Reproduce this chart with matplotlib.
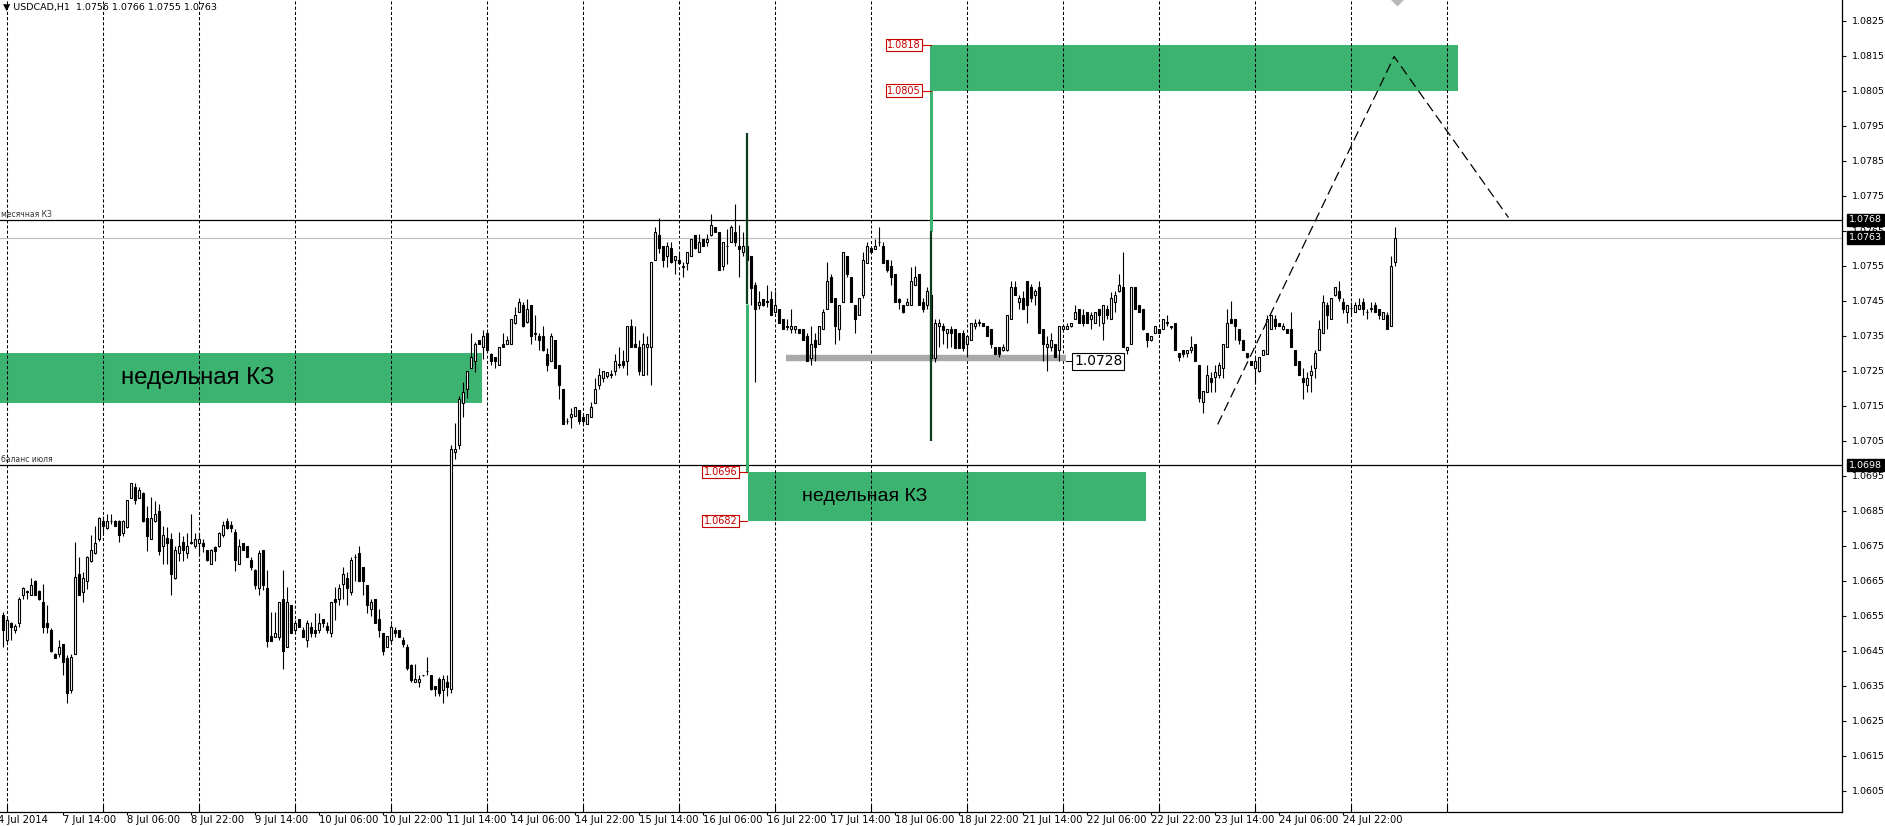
import matplotlib
matplotlib.use("Agg")
import matplotlib.pyplot as plt
from matplotlib.patches import Rectangle
import matplotlib.transforms as mtransforms
import numpy as np

# USDCAD H1 candles, bar 0 = 4 Jul 2014 23:00, last bar = 25 Jul 11:00
opens = [
    1.06551, 1.06479, 1.06530, 1.06510, 1.06529, 1.06610, 1.06617, 1.06610, 1.06650, 1.06619,
    1.06590, 1.06530, 1.06510, 1.06440, 1.06439, 1.06470, 1.06430, 1.06338, 1.06439, 1.06669,
    1.06617, 1.06648, 1.06707, 1.06728, 1.06768, 1.06821, 1.06800, 1.06820, 1.06821, 1.06821,
    1.06787, 1.06802, 1.06887, 1.06917, 1.06887, 1.06900, 1.06828, 1.06768, 1.06819, 1.06849,
    1.06749, 1.06771, 1.06768, 1.06658, 1.06728, 1.06759, 1.06728, 1.06758, 1.06749, 1.06758,
    1.06758, 1.06737, 1.06697, 1.06747, 1.06750, 1.06780, 1.06821, 1.06808, 1.06789, 1.06698,
    1.06757, 1.06749, 1.06709, 1.06679, 1.06630, 1.06738, 1.06630, 1.06491, 1.06489, 1.06489,
    1.06598, 1.06459, 1.06579, 1.06510, 1.06539, 1.06510, 1.06480, 1.06518, 1.06510, 1.06510,
    1.06539, 1.06520, 1.06499, 1.06598, 1.06598, 1.06639, 1.06658, 1.06617, 1.06716, 1.06729,
    1.06690, 1.06638, 1.06570, 1.06598, 1.06539, 1.06499, 1.06459, 1.06480, 1.06510, 1.06510,
    1.06480, 1.06459, 1.06409, 1.06359, 1.06359, 1.06379, 1.06391, 1.06380, 1.06349, 1.06368,
    1.06338, 1.06361, 1.06340, 1.07017, 1.07036, 1.07157, 1.07197, 1.07256, 1.07277, 1.07337,
    1.07316, 1.07356, 1.07296, 1.07288, 1.07267, 1.07327, 1.07327, 1.07327, 1.07387, 1.07417,
    1.07436, 1.07389, 1.07436, 1.07355, 1.07348, 1.07348, 1.07296, 1.07277, 1.07337, 1.07267,
    1.07197, 1.07105, 1.07116, 1.07119, 1.07138, 1.07116, 1.07097, 1.07117, 1.07157, 1.07209,
    1.07228, 1.07235, 1.07238, 1.07248, 1.07266, 1.07277, 1.07277, 1.07377, 1.07327, 1.07316,
    1.07237, 1.07316, 1.07316, 1.07567, 1.07638, 1.07606, 1.07578, 1.07599, 1.07567, 1.07567,
    1.07547, 1.07557, 1.07578, 1.07638, 1.07588, 1.07625, 1.07618, 1.07638, 1.07659, 1.07646,
    1.07548, 1.07605, 1.07618, 1.07646, 1.07606, 1.07588, 1.07606, 1.07578, 1.07495, 1.07436,
    1.07455, 1.07446, 1.07455, 1.07417, 1.07427, 1.07396, 1.07375, 1.07368, 1.07368, 1.07368,
    1.07368, 1.07349, 1.07287, 1.07337, 1.07327, 1.07368, 1.07427, 1.07517, 1.07457, 1.07368,
    1.07445, 1.07578, 1.07517, 1.07436, 1.07408, 1.07466, 1.07557, 1.07599, 1.07597, 1.07617,
    1.07606, 1.07567, 1.07548, 1.07526, 1.07455, 1.07436, 1.07436, 1.07436, 1.07495, 1.07526,
    1.07447, 1.07436, 1.07466, 1.07285, 1.07376, 1.07376, 1.07356, 1.07368, 1.07368, 1.07356,
    1.07356, 1.07327, 1.07337, 1.07376, 1.07386, 1.07387, 1.07376, 1.07368, 1.07318, 1.07318,
    1.07308, 1.07308, 1.07396, 1.07488, 1.07447, 1.07457, 1.07507, 1.07488, 1.07466, 1.07488,
    1.07368, 1.07318, 1.07318, 1.07327, 1.07308, 1.07368, 1.07368, 1.07376, 1.07398, 1.07427,
    1.07408, 1.07417, 1.07396, 1.07387, 1.07427, 1.07387, 1.07427, 1.07396, 1.07445, 1.07476,
    1.07488, 1.07308, 1.07327, 1.07488, 1.07436, 1.07427, 1.07356, 1.07337, 1.07356, 1.07368,
    1.07368, 1.07386, 1.07375, 1.07387, 1.07299, 1.07308, 1.07299, 1.07308, 1.07327, 1.07267,
    1.07159, 1.07190, 1.07228, 1.07232, 1.07237, 1.07256, 1.07318, 1.07396, 1.07396, 1.07368,
    1.07337, 1.07299, 1.07277, 1.07258, 1.07249, 1.07294, 1.07296, 1.07368, 1.07396, 1.07387,
    1.07368, 1.07368, 1.07368, 1.07308, 1.07277, 1.07228, 1.07209, 1.07237, 1.07258, 1.07308,
    1.07356, 1.07436, 1.07396, 1.07466, 1.07476, 1.07447, 1.07417, 1.07428, 1.07417, 1.07427,
    1.07447, 1.07416, 1.07426, 1.07436, 1.07427, 1.07396, 1.07408, 1.07376, 1.07560,
]
highs = [
    1.06560, 1.06546, 1.06532, 1.06527, 1.06603, 1.06631, 1.06622, 1.06658, 1.06652, 1.06622,
    1.06639, 1.06579, 1.06513, 1.06444, 1.06480, 1.06470, 1.06437, 1.06440, 1.06759, 1.06718,
    1.06674, 1.06719, 1.06781, 1.06806, 1.06832, 1.06835, 1.06840, 1.06841, 1.06822, 1.06822,
    1.06822, 1.06879, 1.06930, 1.06930, 1.06917, 1.06903, 1.06863, 1.06889, 1.06877, 1.06868,
    1.06806, 1.06802, 1.06787, 1.06750, 1.06790, 1.06778, 1.06787, 1.06840, 1.06787, 1.06787,
    1.06768, 1.06737, 1.06740, 1.06750, 1.06790, 1.06821, 1.06828, 1.06821, 1.06797, 1.06769,
    1.06757, 1.06749, 1.06717, 1.06683, 1.06738, 1.06738, 1.06679, 1.06560, 1.06560, 1.06589,
    1.06679, 1.06631, 1.06579, 1.06537, 1.06539, 1.06518, 1.06537, 1.06532, 1.06557, 1.06557,
    1.06539, 1.06532, 1.06589, 1.06631, 1.06641, 1.06690, 1.06674, 1.06718, 1.06726, 1.06750,
    1.06690, 1.06638, 1.06598, 1.06598, 1.06570, 1.06499, 1.06491, 1.06527, 1.06518, 1.06510,
    1.06489, 1.06470, 1.06412, 1.06412, 1.06380, 1.06380, 1.06431, 1.06380, 1.06349, 1.06375,
    1.06380, 1.06380, 1.07038, 1.07100, 1.07178, 1.07218, 1.07248, 1.07358, 1.07332, 1.07337,
    1.07365, 1.07360, 1.07299, 1.07288, 1.07317, 1.07357, 1.07349, 1.07396, 1.07431, 1.07457,
    1.07447, 1.07455, 1.07438, 1.07408, 1.07356, 1.07377, 1.07313, 1.07358, 1.07337, 1.07267,
    1.07197, 1.07114, 1.07142, 1.07145, 1.07138, 1.07122, 1.07125, 1.07159, 1.07228, 1.07256,
    1.07248, 1.07247, 1.07251, 1.07296, 1.07318, 1.07308, 1.07377, 1.07398, 1.07377, 1.07337,
    1.07356, 1.07348, 1.07559, 1.07659, 1.07687, 1.07606, 1.07616, 1.07618, 1.07578, 1.07588,
    1.07559, 1.07588, 1.07625, 1.07638, 1.07640, 1.07625, 1.07640, 1.07698, 1.07659, 1.07646,
    1.07618, 1.07654, 1.07666, 1.07727, 1.07666, 1.07646, 1.07620, 1.07578, 1.07504, 1.07476,
    1.07455, 1.07495, 1.07476, 1.07476, 1.07427, 1.07396, 1.07398, 1.07427, 1.07376, 1.07368,
    1.07368, 1.07356, 1.07376, 1.07356, 1.07376, 1.07427, 1.07559, 1.07526, 1.07457, 1.07436,
    1.07588, 1.07578, 1.07517, 1.07436, 1.07457, 1.07588, 1.07616, 1.07606, 1.07625, 1.07659,
    1.07616, 1.07567, 1.07567, 1.07526, 1.07457, 1.07436, 1.07457, 1.07545, 1.07548, 1.07526,
    1.07457, 1.07488, 1.07475, 1.07398, 1.07398, 1.07387, 1.07368, 1.07376, 1.07368, 1.07356,
    1.07365, 1.07349, 1.07387, 1.07396, 1.07396, 1.07387, 1.07376, 1.07368, 1.07318, 1.07318,
    1.07327, 1.07408, 1.07507, 1.07507, 1.07466, 1.07476, 1.07507, 1.07498, 1.07483, 1.07507,
    1.07368, 1.07349, 1.07356, 1.07327, 1.07376, 1.07376, 1.07387, 1.07387, 1.07436, 1.07427,
    1.07427, 1.07417, 1.07417, 1.07417, 1.07427, 1.07436, 1.07436, 1.07474, 1.07476, 1.07526,
    1.07588, 1.07318, 1.07488, 1.07488, 1.07436, 1.07427, 1.07356, 1.07349, 1.07376, 1.07368,
    1.07396, 1.07408, 1.07376, 1.07387, 1.07299, 1.07308, 1.07308, 1.07349, 1.07327, 1.07267,
    1.07190, 1.07267, 1.07247, 1.07267, 1.07275, 1.07327, 1.07427, 1.07450, 1.07396, 1.07368,
    1.07337, 1.07299, 1.07277, 1.07289, 1.07289, 1.07308, 1.07408, 1.07408, 1.07408, 1.07387,
    1.07387, 1.07368, 1.07417, 1.07308, 1.07277, 1.07257, 1.07247, 1.07267, 1.07308, 1.07393,
    1.07466, 1.07445, 1.07457, 1.07488, 1.07507, 1.07457, 1.07436, 1.07447, 1.07447, 1.07457,
    1.07457, 1.07427, 1.07447, 1.07447, 1.07427, 1.07417, 1.07417, 1.07578, 1.07660,
]
lows = [
    1.06459, 1.06472, 1.06480, 1.06499, 1.06518, 1.06598, 1.06598, 1.06608, 1.06608, 1.06593,
    1.06499, 1.06499, 1.06446, 1.06428, 1.06432, 1.06380, 1.06300, 1.06328, 1.06439, 1.06608,
    1.06589, 1.06626, 1.06702, 1.06726, 1.06764, 1.06781, 1.06797, 1.06811, 1.06805, 1.06759,
    1.06778, 1.06800, 1.06885, 1.06868, 1.06885, 1.06816, 1.06735, 1.06768, 1.06816, 1.06724,
    1.06697, 1.06696, 1.06608, 1.06655, 1.06707, 1.06707, 1.06714, 1.06754, 1.06743, 1.06721,
    1.06731, 1.06707, 1.06696, 1.06707, 1.06747, 1.06773, 1.06797, 1.06788, 1.06677, 1.06698,
    1.06736, 1.06717, 1.06679, 1.06627, 1.06608, 1.06622, 1.06459, 1.06478, 1.06489, 1.06480,
    1.06397, 1.06459, 1.06499, 1.06503, 1.06518, 1.06489, 1.06459, 1.06489, 1.06489, 1.06499,
    1.06518, 1.06499, 1.06489, 1.06537, 1.06579, 1.06598, 1.06579, 1.06608, 1.06650, 1.06650,
    1.06610, 1.06557, 1.06548, 1.06529, 1.06489, 1.06437, 1.06459, 1.06470, 1.06489, 1.06489,
    1.06459, 1.06395, 1.06361, 1.06359, 1.06347, 1.06377, 1.06380, 1.06338, 1.06320, 1.06320,
    1.06300, 1.06320, 1.06328, 1.06998, 1.07027, 1.07116, 1.07171, 1.07256, 1.07247, 1.07327,
    1.07284, 1.07305, 1.07266, 1.07256, 1.07267, 1.07316, 1.07327, 1.07327, 1.07384, 1.07417,
    1.07375, 1.07387, 1.07327, 1.07337, 1.07308, 1.07305, 1.07248, 1.07277, 1.07256, 1.07169,
    1.07097, 1.07097, 1.07087, 1.07119, 1.07097, 1.07097, 1.07097, 1.07117, 1.07157, 1.07197,
    1.07218, 1.07228, 1.07228, 1.07237, 1.07256, 1.07256, 1.07237, 1.07316, 1.07316, 1.07237,
    1.07237, 1.07237, 1.07209, 1.07567, 1.07587, 1.07545, 1.07545, 1.07557, 1.07526, 1.07557,
    1.07516, 1.07538, 1.07576, 1.07597, 1.07588, 1.07606, 1.07606, 1.07635, 1.07646, 1.07538,
    1.07538, 1.07554, 1.07618, 1.07606, 1.07517, 1.07578, 1.07520, 1.07436, 1.07216, 1.07427,
    1.07434, 1.07431, 1.07408, 1.07415, 1.07387, 1.07368, 1.07365, 1.07358, 1.07356, 1.07356,
    1.07337, 1.07277, 1.07267, 1.07277, 1.07327, 1.07368, 1.07427, 1.07447, 1.07327, 1.07337,
    1.07445, 1.07517, 1.07445, 1.07356, 1.07408, 1.07457, 1.07557, 1.07588, 1.07597, 1.07606,
    1.07557, 1.07531, 1.07495, 1.07447, 1.07427, 1.07415, 1.07436, 1.07436, 1.07495, 1.07436,
    1.07417, 1.07427, 1.07275, 1.07275, 1.07318, 1.07327, 1.07315, 1.07318, 1.07313, 1.07313,
    1.07305, 1.07289, 1.07337, 1.07368, 1.07376, 1.07376, 1.07349, 1.07315, 1.07296, 1.07289,
    1.07305, 1.07305, 1.07396, 1.07466, 1.07427, 1.07427, 1.07387, 1.07445, 1.07436, 1.07356,
    1.07277, 1.07249, 1.07305, 1.07289, 1.07277, 1.07368, 1.07368, 1.07374, 1.07398, 1.07387,
    1.07376, 1.07387, 1.07368, 1.07387, 1.07376, 1.07337, 1.07398, 1.07396, 1.07417, 1.07474,
    1.07318, 1.07296, 1.07327, 1.07427, 1.07417, 1.07365, 1.07318, 1.07334, 1.07356, 1.07356,
    1.07368, 1.07376, 1.07368, 1.07308, 1.07277, 1.07289, 1.07289, 1.07299, 1.07277, 1.07159,
    1.07128, 1.07190, 1.07190, 1.07190, 1.07228, 1.07228, 1.07318, 1.07387, 1.07337, 1.07327,
    1.07308, 1.07286, 1.07267, 1.07218, 1.07247, 1.07294, 1.07296, 1.07368, 1.07368, 1.07376,
    1.07365, 1.07356, 1.07318, 1.07267, 1.07237, 1.07169, 1.07190, 1.07190, 1.07228, 1.07308,
    1.07356, 1.07368, 1.07396, 1.07464, 1.07450, 1.07415, 1.07387, 1.07408, 1.07417, 1.07427,
    1.07408, 1.07396, 1.07417, 1.07417, 1.07396, 1.07396, 1.07368, 1.07376, 1.07550,
]
closes = [
    1.06510, 1.06538, 1.06518, 1.06519, 1.06598, 1.06629, 1.06619, 1.06638, 1.06610, 1.06597,
    1.06518, 1.06518, 1.06449, 1.06430, 1.06459, 1.06418, 1.06328, 1.06432, 1.06660, 1.06610,
    1.06658, 1.06716, 1.06737, 1.06758, 1.06828, 1.06805, 1.06821, 1.06821, 1.06806, 1.06781,
    1.06821, 1.06879, 1.06928, 1.06879, 1.06909, 1.06819, 1.06777, 1.06828, 1.06841, 1.06735,
    1.06781, 1.06756, 1.06669, 1.06737, 1.06750, 1.06737, 1.06750, 1.06759, 1.06768, 1.06768,
    1.06749, 1.06709, 1.06737, 1.06735, 1.06787, 1.06808, 1.06800, 1.06800, 1.06709, 1.06749,
    1.06737, 1.06717, 1.06688, 1.06636, 1.06729, 1.06636, 1.06478, 1.06478, 1.06499, 1.06589,
    1.06450, 1.06589, 1.06499, 1.06529, 1.06518, 1.06489, 1.06529, 1.06499, 1.06499, 1.06529,
    1.06529, 1.06510, 1.06589, 1.06589, 1.06630, 1.06669, 1.06630, 1.06709, 1.06717, 1.06650,
    1.06650, 1.06579, 1.06589, 1.06529, 1.06510, 1.06450, 1.06491, 1.06518, 1.06499, 1.06489,
    1.06470, 1.06399, 1.06366, 1.06368, 1.06368, 1.06380, 1.06392, 1.06340, 1.06340, 1.06328,
    1.06368, 1.06347, 1.07027, 1.07027, 1.07169, 1.07188, 1.07248, 1.07289, 1.07327, 1.07327,
    1.07348, 1.07308, 1.07277, 1.07277, 1.07317, 1.07316, 1.07337, 1.07396, 1.07408, 1.07447,
    1.07377, 1.07427, 1.07348, 1.07356, 1.07337, 1.07308, 1.07267, 1.07348, 1.07256, 1.07209,
    1.07097, 1.07106, 1.07125, 1.07145, 1.07105, 1.07105, 1.07125, 1.07145, 1.07197, 1.07237,
    1.07248, 1.07247, 1.07239, 1.07277, 1.07267, 1.07267, 1.07377, 1.07316, 1.07316, 1.07248,
    1.07327, 1.07327, 1.07559, 1.07646, 1.07599, 1.07567, 1.07606, 1.07559, 1.07578, 1.07557,
    1.07548, 1.07588, 1.07625, 1.07599, 1.07618, 1.07606, 1.07625, 1.07666, 1.07646, 1.07538,
    1.07618, 1.07606, 1.07659, 1.07618, 1.07597, 1.07606, 1.07567, 1.07485, 1.07427, 1.07447,
    1.07436, 1.07447, 1.07408, 1.07436, 1.07387, 1.07368, 1.07376, 1.07376, 1.07376, 1.07356,
    1.07337, 1.07277, 1.07327, 1.07318, 1.07376, 1.07417, 1.07507, 1.07447, 1.07376, 1.07436,
    1.07588, 1.07526, 1.07445, 1.07396, 1.07457, 1.07567, 1.07606, 1.07588, 1.07606, 1.07618,
    1.07557, 1.07538, 1.07517, 1.07447, 1.07447, 1.07417, 1.07447, 1.07507, 1.07517, 1.07436,
    1.07427, 1.07476, 1.07285, 1.07387, 1.07387, 1.07365, 1.07368, 1.07356, 1.07315, 1.07315,
    1.07315, 1.07349, 1.07387, 1.07387, 1.07387, 1.07376, 1.07349, 1.07327, 1.07296, 1.07296,
    1.07318, 1.07408, 1.07488, 1.07466, 1.07457, 1.07427, 1.07436, 1.07457, 1.07476, 1.07356,
    1.07327, 1.07327, 1.07337, 1.07289, 1.07376, 1.07376, 1.07376, 1.07387, 1.07417, 1.07387,
    1.07387, 1.07387, 1.07408, 1.07417, 1.07408, 1.07436, 1.07408, 1.07457, 1.07466, 1.07495,
    1.07318, 1.07318, 1.07488, 1.07427, 1.07417, 1.07368, 1.07337, 1.07349, 1.07376, 1.07356,
    1.07396, 1.07387, 1.07376, 1.07308, 1.07289, 1.07296, 1.07308, 1.07318, 1.07277, 1.07171,
    1.07190, 1.07237, 1.07218, 1.07247, 1.07267, 1.07327, 1.07387, 1.07387, 1.07376, 1.07337,
    1.07308, 1.07289, 1.07267, 1.07277, 1.07289, 1.07308, 1.07398, 1.07408, 1.07376, 1.07376,
    1.07376, 1.07356, 1.07318, 1.07267, 1.07237, 1.07218, 1.07228, 1.07249, 1.07299, 1.07368,
    1.07447, 1.07408, 1.07457, 1.07488, 1.07457, 1.07427, 1.07436, 1.07428, 1.07436, 1.07436,
    1.07427, 1.07417, 1.07427, 1.07417, 1.07408, 1.07417, 1.07368, 1.07548, 1.07630,
]

# time axis labels (bar index, text)
time_ticks = [15, 31, 47, 63, 79, 95, 111, 127, 143, 159, 175, 191, 207, 223, 239, 255,
              271, 287, 303, 319, 335]
time_labels = ["7 Jul 14:00", "8 Jul 06:00", "8 Jul 22:00", "9 Jul 14:00", "10 Jul 06:00",
               "10 Jul 22:00", "11 Jul 14:00", "14 Jul 06:00", "14 Jul 22:00", "15 Jul 14:00",
               "16 Jul 06:00", "16 Jul 22:00", "17 Jul 14:00", "18 Jul 06:00", "18 Jul 22:00",
               "21 Jul 14:00", "22 Jul 06:00", "22 Jul 22:00", "23 Jul 14:00", "24 Jul 06:00",
               "24 Jul 22:00"]
first_label = "4 Jul 2014"
day_starts = [1, 25, 49, 73, 97, 121, 145, 169, 193, 217, 241, 265, 289, 313, 337, 361]
price_ticks = [1.0605, 1.0615, 1.0625, 1.0635, 1.0645, 1.0655, 1.0665, 1.0675, 1.0685, 1.0695,
               1.0705, 1.0715, 1.0725, 1.0735, 1.0745, 1.0755, 1.0765, 1.0775, 1.0785, 1.0795,
               1.0805, 1.0815, 1.0825]

# drawn objects
zones = [  # (start bar, end bar, low, high, caption)
    (-1.0, 119.8, 1.07158, 1.07301, "недельная КЗ"),
    (186.4, 285.9, 1.0682, 1.0696, "недельная КЗ"),
    (232.1, 363.9, 1.0805, 1.0818, ""),
]
level_monthly = 1.0768
level_balance = 1.0698
bid = 1.0763
support = 1.07285
support_bars = (195.9, 265.8)
trend_bars = [303.8, 347.9, 376.5]
trend_prices = [1.07096, 1.08147, 1.07687]

GREEN = "#3CB371"
RED = "#C80000"

W, H = 1885, 826
AX_BOTTOM = 14  # px from the bottom edge
fig = plt.figure(figsize=(W / 100, H / 100), dpi=100)
ax = fig.add_axes([0, AX_BOTTOM / H, 1842 / W, (H - AX_BOTTOM) / H])
ax.set_xlim(-0.625, 459.875)
ax.set_ylim(1.0768 - (H - AX_BOTTOM - 220) / 35000, 1.0768 + 220 / 35000)
ax.set_facecolor("white")

# day separators
ax.vlines(day_starts, 1.05, 1.09, colors="black", lw=0.75, linestyles=(0, (3, 2)), zorder=1.5)

# zones
for x0, x1, lo, hi, cap in zones:
    ax.add_patch(Rectangle((x0, lo), x1 - x0, hi - lo, color=GREEN, lw=0, zorder=1))
zx0, zx1, zlo, zhi, cap = zones[0]
ax.text(zx0 + 30.5, (zlo + zhi) / 2, cap, fontsize=17.3, family="Liberation Sans",
        va="center", ha="left", zorder=6)
zx0, zx1, zlo, zhi, cap = zones[1]
ax.text(zx0 + 13.5, (zlo + zhi) / 2, cap, fontsize=14, family="Liberation Sans",
        va="center", ha="left", zorder=6)

# horizontal levels
ax.axhline(level_monthly, color="black", lw=0.9, zorder=2)
ax.axhline(level_balance, color="black", lw=0.9, zorder=2)
ax.axhline(bid, color="#C0C0C0", lw=0.9, zorder=2)
ax.text(-0.3, level_monthly + 0.00003, "месячная КЗ", fontsize=5.5, va="bottom", ha="left",
        color="#333333", zorder=6)
ax.text(-0.3, level_balance + 0.00003, "баланс июля", fontsize=5.5, va="bottom", ha="left",
        color="#333333", zorder=6)

# support line 1.0728
ax.plot(support_bars, [support, support], color="#A9A9A9", lw=4.6, solid_capstyle="butt", zorder=2)
ax.plot([support_bars[1], support_bars[1] + 2.0], [support - 0.00009, support - 0.00009],
        color="black", lw=0.7, zorder=6)
ax.text(support_bars[1] + 2.1, support - 0.00009, "1.0728", fontsize=10, va="center", ha="left",
        zorder=6, bbox=dict(boxstyle="square,pad=0.12", fc="white", ec="black", lw=0.8))

# vertical marker lines
ax.vlines(186.1, 1.0696, 1.0744, colors=GREEN, lw=2.2, zorder=5)
ax.vlines(186.1, 1.0744, 1.0793, colors="#0B3D1E", lw=1.6, zorder=5)
ax.vlines(232.0, 1.0765, 1.0818, colors=GREEN, lw=2.2, zorder=5)
ax.vlines(232.0, 1.0705, 1.0765, colors="#0B3D1E", lw=1.6, zorder=5)

# red price tags
for bar_x, price in [(232.0, 1.0818), (232.0, 1.0805), (186.1, 1.0696), (186.1, 1.0682)]:
    ax.plot([bar_x - 2.3, bar_x], [price, price], color=RED, lw=0.8, zorder=6)
    ax.text(bar_x - 2.4, price, f"{price:.4f}", fontsize=7, color=RED, va="center",
            ha="right", zorder=6,
            bbox=dict(boxstyle="square,pad=0.15", fc="white", ec=RED, lw=0.8))

# dashed projection
ax.plot(trend_bars, trend_prices, color="black", lw=0.9, ls=(0, (8, 4)), zorder=6)
ax.plot([348.6], [1.08318], marker="D", ms=8, color="#B8B8B8", zorder=6, clip_on=True)

# candles
x = np.arange(len(opens))
o, h, l, c = (np.array(v) for v in (opens, highs, lows, closes))
ax.vlines(x, l, h, colors="black", lw=0.8, zorder=3)
body_lo = np.minimum(o, c)
body_h = np.maximum(np.abs(c - o), 0.000012)
ax.bar(x, body_h, 0.5, body_lo, color=np.where(c >= o, "white", "black"),
       edgecolor="black", linewidth=0.8, zorder=4)

# axes styling
for s in ("top", "left"):
    ax.spines[s].set_visible(False)
ax.spines["right"].set_linewidth(0.9)
ax.spines["bottom"].set_linewidth(0.9)
ax.yaxis.tick_right()
ax.set_yticks(price_ticks)
ax.set_yticklabels([f"{p:.4f}" for p in price_ticks])
ax.tick_params(axis="y", labelsize=6.8, length=3, width=0.8, pad=4)
ax.set_xticks(time_ticks)
ax.set_xticklabels(time_labels)
ax.set_xticks(day_starts, minor=True)
ax.tick_params(axis="x", which="major", labelsize=7.2, length=2, width=0.8, pad=0.5)
ax.tick_params(axis="x", which="minor", direction="in", length=5, width=0.8)
for lbl in ax.get_xticklabels():
    lbl.set_ha("left")
xtr = mtransforms.blended_transform_factory(ax.transData, ax.transAxes)
ax.annotate(first_label, xy=(-1.2, 0), xycoords=xtr, xytext=(0, -2.5),
            textcoords="offset points", fontsize=7.2, va="top", ha="left",
            annotation_clip=False)

# price boxes on the price scale
tr = mtransforms.blended_transform_factory(ax.transAxes, ax.transData)
for p in (level_monthly, bid, level_balance):
    ax.text(1.004, p, f"{p:.4f}", transform=tr, fontsize=6.8, color="white", va="center",
            ha="left", zorder=10, clip_on=False,
            bbox=dict(boxstyle="square,pad=0.2", fc="black", ec="black"))

ax.text(0.0015, 0.997, "\u25bc USDCAD,H1  1.0756 1.0766 1.0755 1.0763", transform=ax.transAxes,
        fontsize=6.8, va="top", ha="left", zorder=10)

fig.savefig("out.png", dpi=100)
